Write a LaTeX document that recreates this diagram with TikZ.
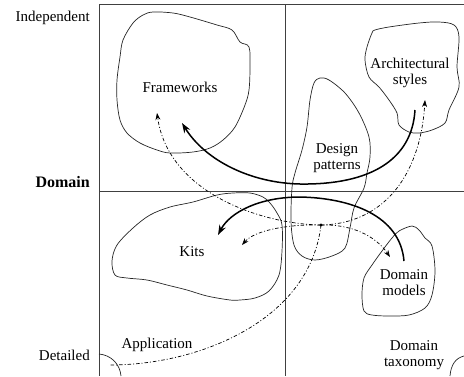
\documentclass[tikz,border=0pt]{standalone}
\usepackage{fontspec}
\setmainfont{Liberation Serif}
\usetikzlibrary{arrows.meta}

\begin{document}
\begin{tikzpicture}[
    x=1pt, y=-1pt,
    axis/.style={black!75, line width=0.9pt},
    rim/.style={black!85, line width=0.7pt},
    blob/.style={rim, smooth cycle, tension=0.55},
    label/.style={inner sep=0pt, align=center, font=\fontsize{15}{16.5}\selectfont},
    strong/.style={line width=1.5pt, -{Stealth[length=10pt,width=7pt]}},
    weakline/.style={line width=0.7pt, dash pattern=on 3.5pt off 2pt on 1pt off 2pt},
    weak/.style={weakline, -{Stealth[length=7pt,width=5pt]}}
    ]
    \useasboundingbox (0,0) rectangle (464,376);
    \draw[axis] (99,4) -- (464,4);
    \draw[axis] (99,4) -- (99,376);
    \draw[axis] (285,4) -- (285,376);
    \draw[axis] (99,191) -- (464,191);
    \draw[rim] (99,354) .. controls (111,355) and (120,364) .. (121,376);
    \draw[rim] (450,376) .. controls (451,364) and (456,358) .. (464,356);
    \draw[blob] plot coordinates {(153,12) (173,13) (190,17) (217,25) (232,30) (240,42) (249,47)
      (250,67) (249,90) (245,105) (235,127) (223,140) (210,148) (193,152) (170,153) (157,150)
      (140,143) (127,133) (120,120) (117,100) (117,80) (120,57) (123,40) (133,23) (143,15)};
    \draw[blob] plot coordinates {(375,30) (389,27) (419,23) (439,22) (454,25) (459,37) (457,67)
      (459,87) (449,110) (445,123) (432,130) (419,133) (409,132) (399,125) (397,113) (389,100)
      (379,87) (369,77) (365,60) (367,47) (372,33)};
    \draw[blob] plot coordinates {(320,78) (329,80) (345,93) (359,113) (369,137) (370,157) (367,173)
      (364,188) (354,208) (350,228) (345,248) (332,256) (315,260) (302,256) (294,245) (291,221)
      (292,188) (295,173) (302,150) (307,127) (310,100) (314,83)};
    \draw[blob] plot coordinates {(112,261) (115,275) (127,278) (147,280) (167,285) (187,290)
      (207,296) (230,300) (240,300) (255,298) (269,291) (279,275) (282,251) (282,225) (277,213)
      (270,203) (263,197) (250,193) (233,193) (217,195) (193,202) (170,207) (150,215) (133,228)
      (117,245)};
    \draw[blob] plot coordinates {(399,231) (412,226) (419,230) (425,238) (432,246) (435,271)
      (432,295) (425,308) (409,315) (389,316) (372,315) (364,311) (362,295) (364,278) (372,265)
      (382,251) (392,238)};
    \node[label, anchor=base east] (indep) at (90,21) {Independent};
    \node[label, anchor=base east, font=\fontsize{16}{18}\selectfont\bfseries] (domain) at (90,187) {Domain};
    \node[label, anchor=base east] (detailed) at (90,360) {Detailed};
    \node[label, anchor=base] (fw) at (180,92) {Frameworks};
    \node[label] (arch) at (410,73) {Architectural\\styles};
    \node[label] (design) at (337,158) {Design\\patterns};
    \node[label, anchor=base] (kits) at (192,256) {Kits};
    \node[label] (models) at (404,282.5) {Domain\\models};
    \node[label, anchor=base] (appl) at (157,348) {Application};
    \node[label] (taxon) at (414,355) {Domain\\taxonomy};
    \coordinate (hub) at (321,225);
    \coordinate (archout) at (415,110);
    \coordinate (fwin) at (182,123);
    \coordinate (modelsout) at (404,261);
    \coordinate (kitsin) at (218,235);
    \coordinate (fwdash) at (157,113);
    \coordinate (kitsdash) at (242,245);
    \coordinate (archdash) at (425,100);
    \coordinate (modelsdash) at (390,257);
    \coordinate (appldash) at (110,365);
    \draw[strong] (archout) .. controls (412,160) and (370,185) .. (300,184)
      .. controls (250,183) and (205,160) .. (fwin);
    \draw[strong] (modelsout) .. controls (400,215) and (350,198) .. (300,197)
      .. controls (260,197) and (230,212) .. (kitsin);
    \draw[weak] (hub) .. controls (260,224) and (168,192) .. (fwdash);
    \draw[weak] (hub) .. controls (290,224) and (255,230) .. (kitsdash);
    \draw[weak] (hub) .. controls (380,224) and (420,180) .. (archdash);
    \draw[weak] (hub) .. controls (350,224) and (375,235) .. (modelsdash);
    \draw[weakline] (hub) .. controls (310,320) and (200,365) .. (appldash);
    \fill (hub) circle (1.6);
  \end{tikzpicture}
\end{document}
